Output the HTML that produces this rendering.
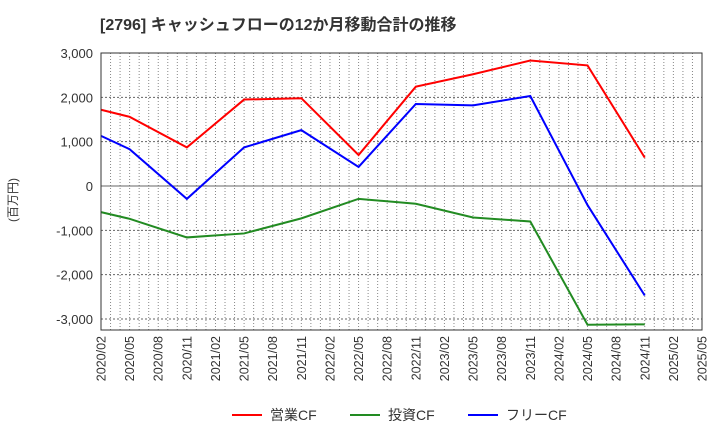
<!DOCTYPE html>
<html><head><meta charset="utf-8"><style>
body{margin:0;background:#fff;font-family:"Liberation Sans","Noto Sans CJK JP",sans-serif}
</style></head><body>
<svg id="c" width="720" height="440" xmlns="http://www.w3.org/2000/svg">
<text x="100" y="30" font-size="16" font-weight="bold" fill="#333">[2796]  キャッシュフローの12か月移動合計の推移</text>
<text transform="translate(17,200) rotate(-90)" text-anchor="middle" font-size="12" fill="#333">(百万円)</text>
<g id="grid"></g><g id="series"></g><g id="axes"></g>
<g font-size="14" fill="#333">
<line x1="232" y1="415" x2="262" y2="415" stroke="#f00" stroke-width="2"/><text x="270" y="420">営業CF</text>
<line x1="350" y1="415" x2="380" y2="415" stroke="#228b22" stroke-width="2"/><text x="388" y="420">投資CF</text>
<line x1="468" y1="415" x2="498" y2="415" stroke="#00f" stroke-width="2"/><text x="506" y="420">フリーCF</text>
</g>
</svg>
<script>
const dates=["2020/02","2020/05","2020/11","2021/05","2021/11","2022/05","2022/11","2023/05","2023/11","2024/05","2024/11"];
const operatingCF=[1720,1560,870,1950,1980,700,2240,2520,2830,2720,640];
const investingCF=[-590,-740,-1160,-1070,-730,-290,-400,-710,-800,-3130,-3120];
const freeCF=[1130,830,-290,870,1260,430,1850,1820,2030,-430,-2470];
const yTicks=[3000,2000,1000,0,-1000,-2000,-3000];
const xTicks=["2020/02","2020/05","2020/08","2020/11","2021/02","2021/05","2021/08","2021/11","2022/02","2022/05","2022/08","2022/11","2023/02","2023/05","2023/08","2023/11","2024/02","2024/05","2024/08","2024/11","2025/02","2025/05"];
const L=101,R=702,T=53,B=330;
const NS="http://www.w3.org/2000/svg";
function mi(s){const [y,m]=s.split("/").map(Number);return (y-2020)*12+m-2;}
const xs=d=>L+mi(d)*(R-L)/63;
const ys=v=>186-v*133/3000;
function mk(p,t,a){const e=document.createElementNS(NS,t);for(const k in a)e.setAttribute(k,a[k]);p.appendChild(e);return e;}
const grid=document.getElementById("grid"),axes=document.getElementById("axes"),ser=document.getElementById("series");
for(let m=1;m<63;m++){const x=L+m*(R-L)/63;
const g=mk(grid,"line",{x1:x,x2:x,y1:T,y2:B,stroke:"#888","stroke-dasharray":"1,2","stroke-width":1});

}
yTicks.forEach(v=>{const y=ys(v);
const g=mk(grid,"line",{x1:L,x2:R,y1:y,y2:y,stroke:v===0?"#666":"#666","stroke-dasharray":v===0?"none":"2,2","stroke-width":1});


const t=mk(axes,"text",{x:L-8,y:y+5,"text-anchor":"end","font-size":13,fill:"#333"});t.textContent=v.toLocaleString("en-US");

});
xTicks.forEach(d=>{const x=xs(d);
const t=mk(axes,"text",{transform:`translate(${x+4.5},${B+6}) rotate(-90)`,"text-anchor":"end","font-size":12.5,fill:"#333"});t.textContent=d;

});
const fr=mk(axes,"rect",{x:L,y:T,width:R-L,height:B-T,fill:"none",stroke:"#333","stroke-width":1});


[[operatingCF,"#f00","operating-cf-line"],[investingCF,"#228b22","investing-cf-line"],[freeCF,"#00f","free-cf-line"]].forEach(([vals,c,n])=>{
const p=mk(ser,"polyline",{points:vals.map((v,i)=>xs(dates[i])+","+ys(v)).join(" "),fill:"none",stroke:c,"stroke-width":2});

});
</script>
</body></html>
